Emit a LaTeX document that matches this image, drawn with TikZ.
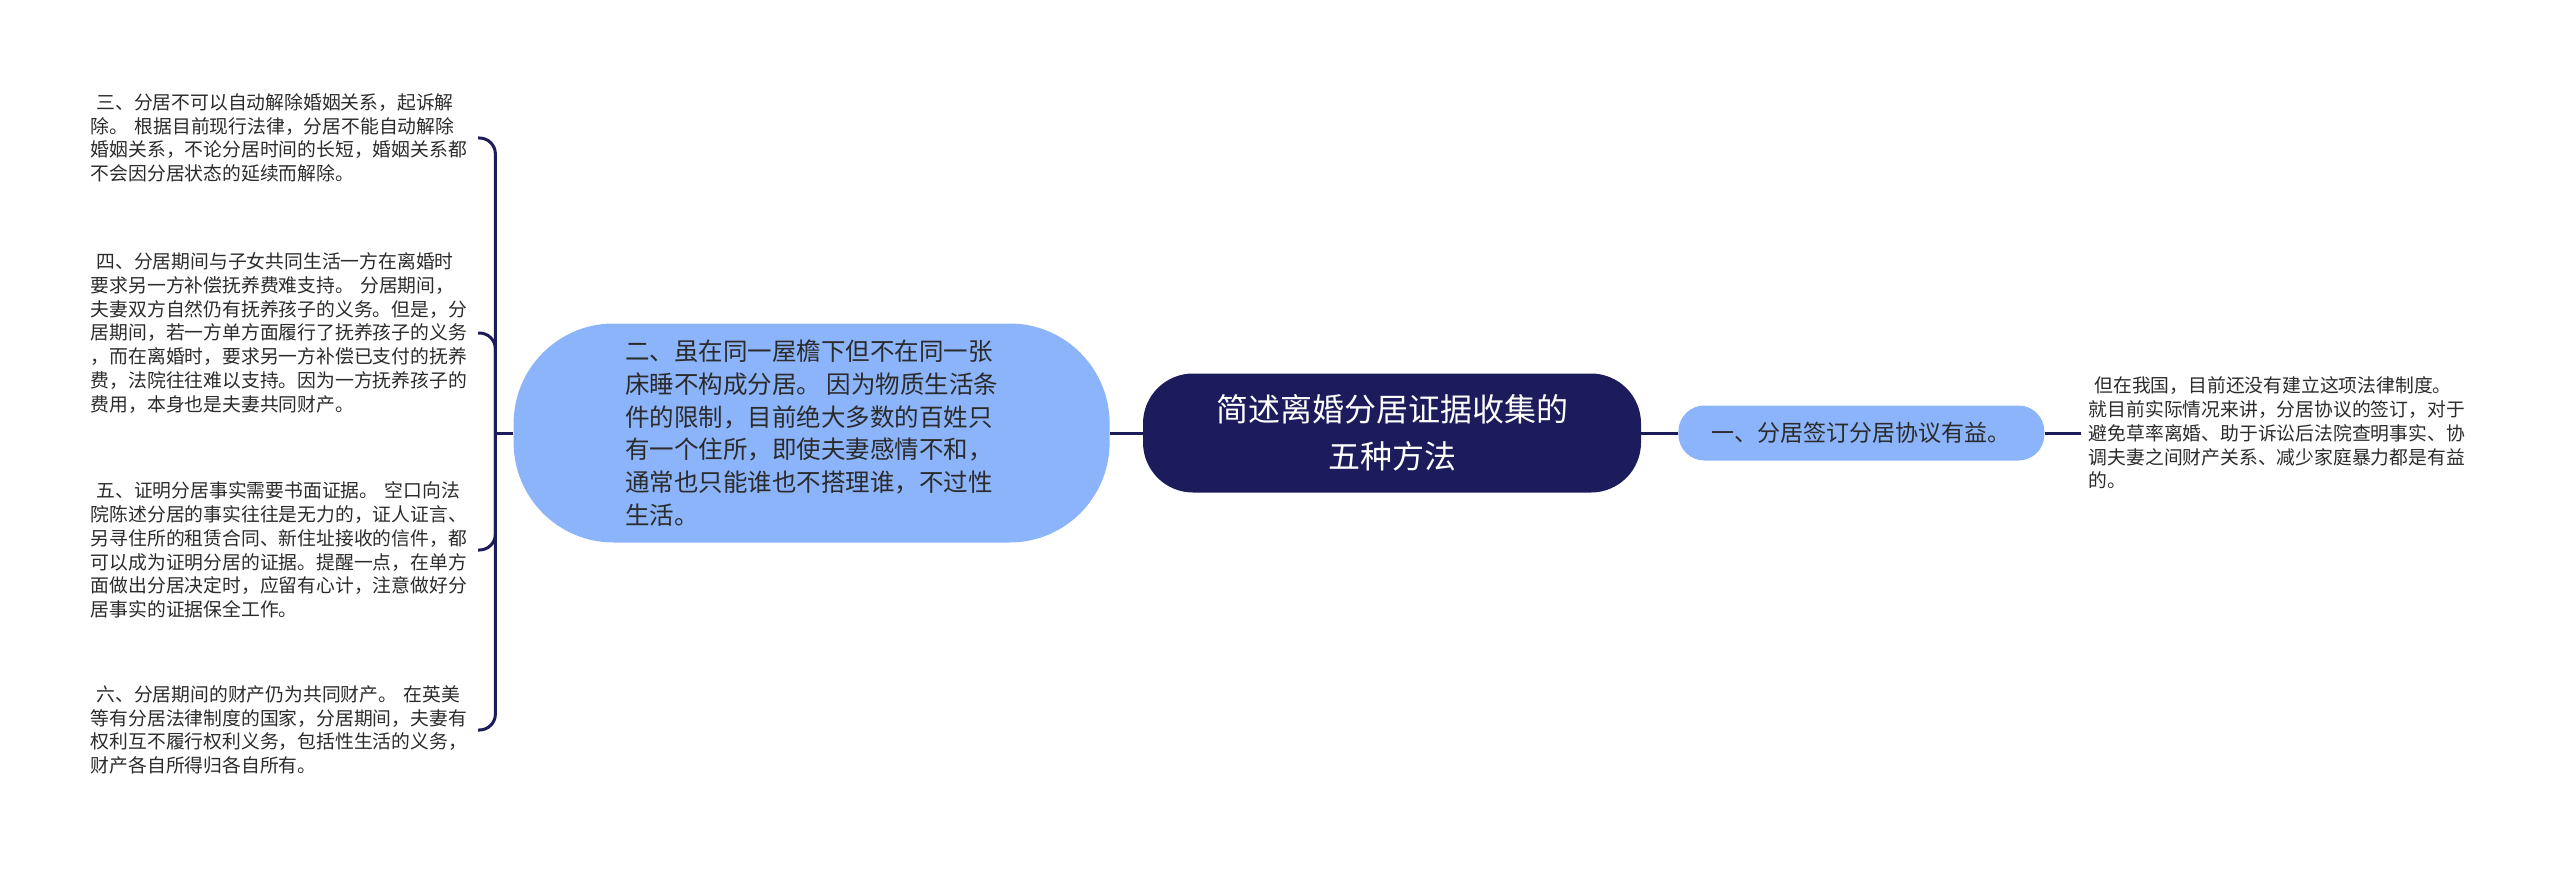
\documentclass[tikz,border=0pt]{standalone}
\usepackage{fontspec}
\newfontfamily\cjk{Noto Sans CJK SC}
\usepackage{xcolor}
\usepackage{tikz}
\usetikzlibrary{positioning}
\definecolor{navy}{HTML}{1C1C5C}
\definecolor{skyfill}{HTML}{8CB4FA}
\definecolor{inkgray}{HTML}{2B2B2B}
\tikzset{
  topicbox/.style={fill=navy, text=white, rounded corners=50pt, align=center,
                   minimum width=498pt, minimum height=119pt, inner sep=0pt,
                   font=\cjk\fontsize{32}{47}\selectfont},
  branchbox/.style={fill=skyfill, text=inkgray, align=left, inner sep=0pt,
                    font=\cjk\fontsize{24.5}{32.7}\selectfont},
  leafnote/.style={text=inkgray, align=left, inner sep=0pt,
                   font=\cjk\fontsize{18.8}{23.7}\selectfont},
  link/.style={draw=navy, line width=3pt},
  bracket/.style={link, rounded corners=16pt}
}

\begin{document}
\begin{tikzpicture}[x=1pt, y=-1pt]

\useasboundingbox (0,0) rectangle (2560,869);

% central topic
\node[topicbox] (topic) at (1392,433) {简述离婚分居证据收集的\\五种方法};

% branches
\node[branchbox, rounded corners=100pt, minimum width=596pt, minimum height=219pt]
  (sep2) [left=33pt of topic] {二、虽在同一屋檐下但不在同一张\\床睡不构成分居。 因为物质生活条\\件的限制，目前绝大多数的百姓只\\有一个住所，即使夫妻感情不和，\\通常也只能谁也不搭理谁，不过性\\生活。};
\node[branchbox, rounded corners=26pt, minimum width=366pt, minimum height=55pt,
      font=\cjk\fontsize{23}{28}\selectfont]
  (sep1) [right=37pt of topic] {一、分居签订分居协议有益。};

% notes
\node[leafnote] (sep1note) [right=44pt of sep1] {\hspace*{0.3em}但在我国，目前还没有建立这项法律制度。\\就目前实际情况来讲，分居协议的签订，对于\\避免草率离婚、助于诉讼后法院查明事实、协\\调夫妻之间财产关系、减少家庭暴力都是有益\\的。};

\node[leafnote, text width=387pt, anchor=east] (sep3) at (478,138) {\hspace*{0.3em}三、分居不可以自动解除婚姻关系，起诉解\\除。 根据目前现行法律，分居不能自动解除\\婚姻关系，不论分居时间的长短，婚姻关系都\\不会因分居状态的延续而解除。};
\node[leafnote, text width=387pt, anchor=east] (sep4) at (478,333) {\hspace*{0.3em}四、分居期间与子女共同生活一方在离婚时\\要求另一方补偿抚养费难支持。 分居期间，\\夫妻双方自然仍有抚养孩子的义务。但是，分\\居期间，若一方单方面履行了抚养孩子的义务\\，而在离婚时，要求另一方补偿已支付的抚养\\费，法院往往难以支持。因为一方抚养孩子的\\费用，本身也是夫妻共同财产。};
\node[leafnote, text width=387pt, anchor=east] (sep5) at (478,550) {\hspace*{0.3em}五、证明分居事实需要书面证据。 空口向法\\院陈述分居的事实往往是无力的，证人证言、\\另寻住所的租赁合同、新住址接收的信件，都\\可以成为证明分居的证据。提醒一点，在单方\\面做出分居决定时，应留有心计，注意做好分\\居事实的证据保全工作。};
\node[leafnote, text width=387pt, anchor=east] (sep6) at (478,730) {\hspace*{0.3em}六、分居期间的财产仍为共同财产。 在英美\\等有分居法律制度的国家，分居期间，夫妻有\\权利互不履行权利义务，包括性生活的义务，\\财产各自所得归各自所有。};

% connectors
\coordinate[left=18pt of sep2] (fork);
\draw[link] (fork) -- (sep2.west);
\draw[link] (sep2.east) -- (topic.west);
\draw[link] (topic.east) -- (sep1.west);
\draw[link] (sep1.east) -- ([xshift=-8pt]sep1note.west);
\foreach \n in {sep3, sep4, sep5, sep6}
  \draw[bracket] (fork) |- (\n.east);

\end{tikzpicture}
\end{document}
